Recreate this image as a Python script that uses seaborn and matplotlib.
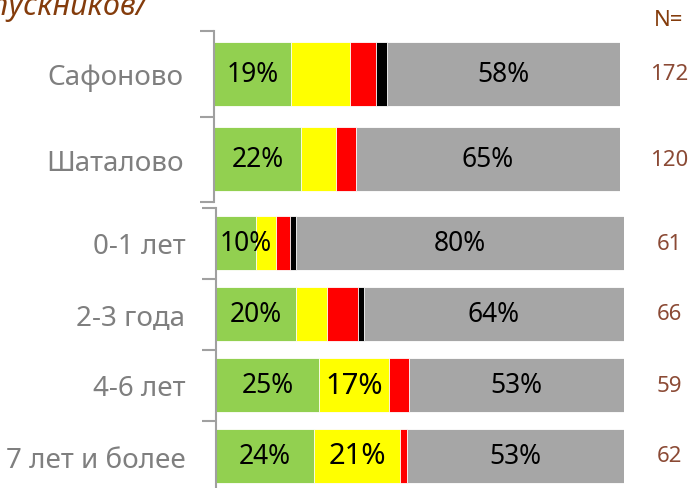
import numpy as np
import pandas as pd
import seaborn as sns
import matplotlib.pyplot as plt
from matplotlib import transforms

# segment colours: green, yellow, red, black, grey
seg_names = ['green', 'yellow', 'red', 'black', 'grey']
seg_colors = ['#92D050', '#FFFF00', '#FF0000', '#000000', '#A6A6A6']

# top block: places
top_groups = ['Сафоново', 'Шаталово']
top_green = [19, 21.5]
top_yellow = [14.5, 8.5]
top_red = [6.5, 5]
top_black = [2.5, 0]
top_grey = [57.5, 65]
top_n = [172, 120]

# bottom block: experience
bot_groups = ['0-1 лет', '2-3 года', '4-6 лет', '7 лет и более']
bot_green = [9.8, 19.5, 25.3, 24.1]
bot_yellow = [4.9, 7.6, 17, 20.9]
bot_red = [3.4, 7.6, 4.9, 1.7]
bot_black = [1.5, 1.5, 0, 0]
bot_grey = [80.4, 63.8, 52.8, 53.3]
bot_n = [61, 66, 59, 62]

label_gray = '#7F7F7F'
brown = '#843C0C'

sns.set_style('white')
plt.rcParams['font.family'] = ['Noto Sans', 'DejaVu Sans']

fig = plt.figure(figsize=(6.9, 4.89), dpi=100)
ax_top = fig.add_axes([214 / 690, 1 - 203 / 489, 406 / 690, 171 / 489])
ax_bot = fig.add_axes([216 / 690, 1 - 492.5 / 489, 408 / 690, 284 / 489])


def stacked(ax, groups, segs, counts):
    df = pd.DataFrame({'group': groups})
    cum = np.zeros(len(groups))
    for name, vals in zip(seg_names, segs):
        cum = cum + np.array(vals, dtype=float)
        df[name] = cum
    # draw from the longest cumulative bar down so the short ones sit on top
    for name, color in reversed(list(zip(seg_names, seg_colors))):
        sns.barplot(data=df, x=name, y='group', color=color, orient='h',
                    width=0.75, saturation=1, edgecolor='white',
                    linewidth=0.6, ax=ax)
    ax.set_xlim(0, 100)
    ax.set_ylim(len(groups) - 0.5, -0.5)
    ax.set_xlabel('')
    ax.set_ylabel('')
    ax.set_xticks([])
    for s in ['top', 'right', 'bottom']:
        ax.spines[s].set_visible(False)
    ax.spines['left'].set_color('#A0A0A0')
    ax.spines['left'].set_linewidth(1.5)
    ax.set_yticks(np.arange(-0.5, len(groups), 1), minor=True)
    ax.tick_params(axis='y', which='major', length=0, pad=22,
                   labelsize=20, labelcolor=label_gray)
    ax.tick_params(axis='y', which='minor', length=10, width=1.5,
                   color='#A0A0A0', left=True)

    # value labels
    for i in range(len(groups)):
        g = segs[0][i]
        ax.text(max(g / 2, 7.2), i, f'{round(g)}%', ha='center', va='center',
                fontsize=19, color='black')
        y = segs[1][i]
        if y >= 15:
            ax.text(g + y / 2, i, f'{round(y)}%', ha='center', va='center',
                    fontsize=21, color='black')
        gr = segs[4][i]
        ax.text(100 - gr / 2, i, f'{round(gr)}%', ha='center', va='center',
                fontsize=19, color='black')

    # N column on the right
    trans = transforms.blended_transform_factory(fig.transFigure, ax.transData)
    for i, n in enumerate(counts):
        ax.text(669 / 690, i, str(n), transform=trans, ha='center',
                va='center', fontsize=16, color='#8B4A35')


stacked(ax_top, top_groups,
        [top_green, top_yellow, top_red, top_black, top_grey], top_n)
stacked(ax_bot, bot_groups,
        [bot_green, bot_yellow, bot_red, bot_black, bot_grey], bot_n)

fig.text(669 / 690, 1 - 21 / 489, 'N=', ha='center', va='center',
         fontsize=16, fontweight='bold', color=brown)
fig.text(147 / 690, 1 - 15 / 489, '(в % от числа выпускников/', ha='right',
         va='baseline', fontsize=22, style='italic', color=brown)

fig.savefig('out.png', dpi=100)
